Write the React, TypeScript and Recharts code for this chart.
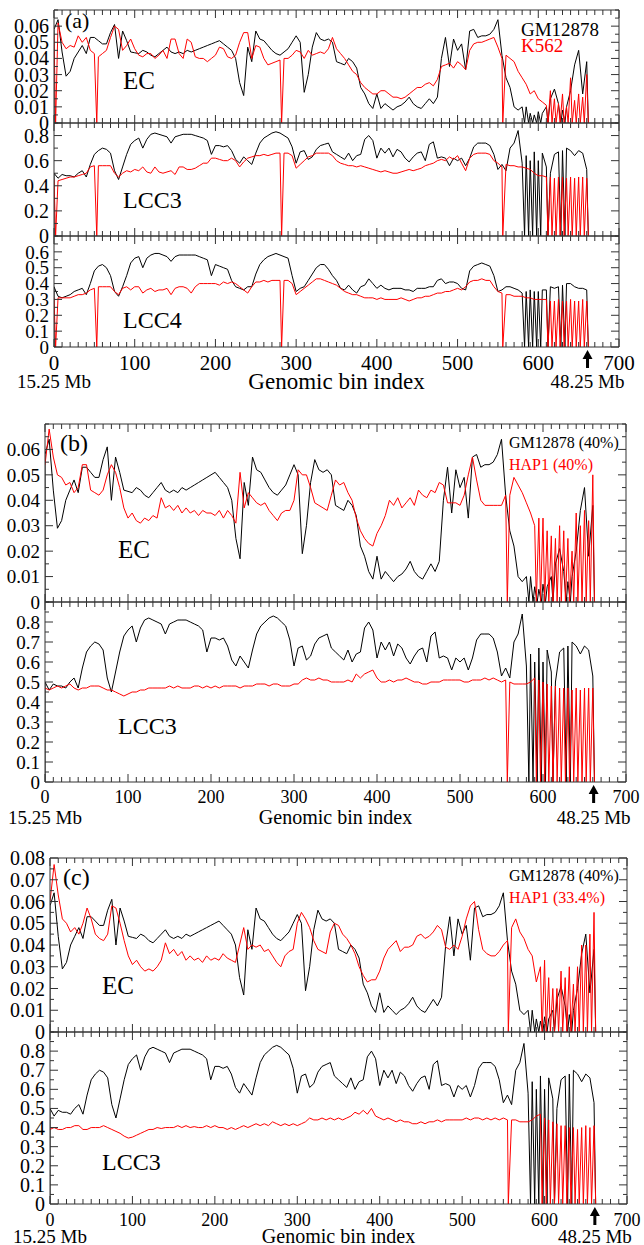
import { LineChart, Line, XAxis, YAxis } from "recharts";

// genomic bins, sampled every 5 bins (0 ... 660)
const bins = Array.from({ length: 133 }, (_, i) => i * 5);

// GM12878 (same track in a, b, c)
const gmEc = [
  0.058, 0.064, 0.044, 0.029, 0.032, 0.04, 0.044, 0.048, 0.043, 0.053,
  0.053, 0.051, 0.049, 0.049, 0.056, 0.061, 0.04, 0.057, 0.051, 0.044,
  0.0435, 0.043, 0.045, 0.044, 0.042, 0.041, 0.043, 0.045, 0.047, 0.044,
  0.043, 0.044, 0.043, 0.045, 0.044, 0.045, 0.046, 0.047, 0.048, 0.049,
  0.05, 0.051, 0.049, 0.047, 0.045, 0.04, 0.025, 0.017, 0.047, 0.038,
  0.057, 0.052, 0.051, 0.048, 0.045, 0.043, 0.042, 0.044, 0.046, 0.05,
  0.054, 0.05, 0.019, 0.03, 0.047, 0.056, 0.052, 0.051, 0.052, 0.05,
  0.038, 0.037, 0.036, 0.04, 0.038, 0.034, 0.022, 0.018, 0.012, 0.009,
  0.018, 0.009, 0.012, 0.01, 0.008, 0.01, 0.011, 0.013, 0.016, 0.012,
  0.01, 0.009, 0.012, 0.015, 0.012, 0.016, 0.04, 0.053, 0.035, 0.052,
  0.045, 0.049, 0.033, 0.057, 0.058, 0.053, 0.054, 0.054, 0.055, 0.058,
  0.064, 0.042, 0.028, 0.022, 0.01, 0.008, 0.01, 0.01, 0.006, 0.005,
  0.007, 0.006, 0.01, 0.015, 0.021, 0.012, 0.008, 0.01, 0.02, 0.036,
  0.045, 0.018, 0.038,
];
const gmLcc3 = [
  0.5, 0.46, 0.49, 0.48, 0.48, 0.47, 0.5, 0.52, 0.47, 0.57,
  0.65, 0.68, 0.7, 0.69, 0.66, 0.52, 0.45, 0.55, 0.65, 0.73,
  0.76, 0.78, 0.7, 0.77, 0.81, 0.82, 0.81, 0.8, 0.79, 0.74,
  0.79, 0.8, 0.81, 0.81, 0.81, 0.8, 0.79, 0.78, 0.76, 0.65,
  0.72, 0.72, 0.71, 0.72, 0.68, 0.61, 0.58, 0.63, 0.6, 0.57,
  0.66, 0.74, 0.78, 0.8, 0.82, 0.83, 0.82, 0.8, 0.78, 0.71,
  0.58, 0.67, 0.68, 0.61, 0.63, 0.69, 0.72, 0.73, 0.74, 0.67,
  0.65, 0.63, 0.61, 0.66, 0.6, 0.64, 0.65, 0.77, 0.8, 0.76,
  0.62, 0.7, 0.66, 0.7, 0.63, 0.69, 0.67, 0.62, 0.59, 0.63,
  0.66, 0.67, 0.6, 0.73, 0.75, 0.62, 0.63, 0.62, 0.56, 0.62,
  0.6, 0.62, 0.56, 0.62, 0.71, 0.74, 0.74, 0.74, 0.72, 0.65,
  0.53, 0.57, 0.52, 0.7, 0.74, 0.84, 0.58, 0.64, 0.6, 0.67,
  0.6, 0.66, 0.55, 0.5, 0.65, 0.67, 0.68, 0.7, 0.68, 0.64,
  0.68, 0.66, 0.53,
];
const gmLcc4 = [
  0.38, 0.32, 0.31, 0.32, 0.33, 0.35, 0.36, 0.37, 0.33, 0.4,
  0.48, 0.51, 0.52, 0.5, 0.45, 0.35, 0.32, 0.38, 0.45, 0.53,
  0.56, 0.57, 0.5, 0.56, 0.58, 0.59, 0.59, 0.58, 0.57, 0.54,
  0.57, 0.58, 0.58, 0.58, 0.58, 0.58, 0.57, 0.56, 0.55, 0.45,
  0.52, 0.51, 0.5, 0.49, 0.42, 0.38, 0.37, 0.36, 0.38, 0.38,
  0.46, 0.52, 0.55, 0.57, 0.58, 0.59, 0.58, 0.57, 0.56, 0.45,
  0.35, 0.37, 0.38, 0.42, 0.46, 0.5, 0.52, 0.52, 0.49, 0.45,
  0.42, 0.37, 0.36, 0.39, 0.36, 0.34, 0.38, 0.39, 0.43, 0.4,
  0.37, 0.39, 0.37, 0.36, 0.37, 0.37, 0.37, 0.36, 0.36, 0.35,
  0.37, 0.37, 0.37, 0.38, 0.38, 0.42, 0.43, 0.4, 0.41, 0.41,
  0.4, 0.37, 0.36, 0.48, 0.51, 0.52, 0.53, 0.52, 0.51, 0.45,
  0.35, 0.36, 0.38, 0.38, 0.37, 0.36, 0.34, 0.35, 0.36, 0.35,
  0.35, 0.36, 0.36, 0.38, 0.37, 0.38, 0.39, 0.4, 0.4, 0.38,
  0.37, 0.37, 0.36,
];

// K562 (panel a)
const k562Ec = [
  0.055, 0.062, 0.05, 0.046, 0.048, 0.047, 0.054, 0.05, 0.053, 0.045,
  0.043, 0.041, 0.043, 0.045, 0.053, 0.06, 0.058, 0.045, 0.048, 0.052,
  0.046, 0.042, 0.041, 0.043, 0.043, 0.04, 0.042, 0.045, 0.04, 0.052,
  0.052, 0.043, 0.04, 0.052, 0.05, 0.041, 0.04, 0.04, 0.038, 0.04,
  0.042, 0.047, 0.046, 0.041, 0.04, 0.042, 0.05, 0.056, 0.056, 0.04,
  0.048, 0.047, 0.04, 0.036, 0.037, 0.038, 0.039, 0.04, 0.04, 0.042,
  0.045, 0.044, 0.04, 0.045, 0.042, 0.043, 0.044, 0.043, 0.046, 0.053,
  0.046, 0.043, 0.04, 0.036, 0.032, 0.03, 0.025, 0.022, 0.02, 0.018,
  0.018, 0.02, 0.02, 0.018, 0.016, 0.016, 0.015, 0.016, 0.018, 0.02,
  0.022, 0.022, 0.024, 0.025, 0.023, 0.027, 0.035, 0.036, 0.037, 0.034,
  0.038, 0.036, 0.033, 0.045, 0.049, 0.05, 0.05, 0.051, 0.052, 0.053,
  0.047, 0.04, 0.042, 0.04, 0.038, 0.032, 0.028, 0.024, 0.018, 0.02,
  0.015, 0.013, 0.011, 0.02, 0.015, 0.012, 0.018, 0.01, 0.028, 0.014,
  0.018, 0.016, 0.03,
];
const k562Lcc3 = [
  0.45, 0.44, 0.45, 0.46, 0.47, 0.47, 0.48, 0.49, 0.5, 0.55,
  0.56, 0.56, 0.56, 0.56, 0.56, 0.5, 0.47, 0.5, 0.52, 0.51,
  0.53, 0.52, 0.55, 0.51, 0.5, 0.55, 0.51, 0.5, 0.51, 0.52,
  0.49, 0.55, 0.55, 0.53, 0.53, 0.54, 0.56, 0.58, 0.58, 0.62,
  0.62, 0.61, 0.6, 0.6, 0.62, 0.6, 0.55, 0.59, 0.62, 0.63,
  0.64, 0.64, 0.65, 0.64, 0.65, 0.66, 0.66, 0.66, 0.66, 0.64,
  0.54, 0.57, 0.6, 0.63, 0.64, 0.66, 0.66, 0.66, 0.66, 0.64,
  0.6, 0.58, 0.57, 0.56, 0.56, 0.55, 0.56, 0.55, 0.54, 0.53,
  0.52, 0.51, 0.52, 0.51, 0.5, 0.5, 0.51, 0.52, 0.53, 0.52,
  0.53, 0.54, 0.56, 0.57, 0.58, 0.6, 0.61, 0.6, 0.63, 0.61,
  0.64, 0.58, 0.52, 0.62, 0.65, 0.66, 0.66, 0.66, 0.65, 0.6,
  0.58, 0.55, 0.57, 0.56, 0.56, 0.55, 0.55, 0.54, 0.53, 0.5,
  0.48, 0.48, 0.47, 0.47, 0.46, 0.47, 0.47, 0.46, 0.47, 0.46,
  0.47, 0.47, 0.46,
];
const k562Lcc4 = [
  0.31, 0.31, 0.31, 0.31, 0.31, 0.32, 0.33, 0.33, 0.34, 0.36,
  0.37, 0.38, 0.38, 0.38, 0.38, 0.35, 0.33, 0.37, 0.38, 0.36,
  0.38, 0.38, 0.34, 0.36, 0.37, 0.35, 0.36, 0.36, 0.37, 0.33,
  0.37, 0.38, 0.38, 0.37, 0.34, 0.38, 0.4, 0.4, 0.4, 0.4,
  0.4, 0.39, 0.41, 0.4, 0.41, 0.4, 0.38, 0.36, 0.34, 0.38,
  0.41, 0.41, 0.42, 0.41, 0.42, 0.42, 0.42, 0.42, 0.42, 0.4,
  0.33, 0.35, 0.37, 0.39, 0.41, 0.43, 0.43, 0.42, 0.41, 0.4,
  0.39, 0.37, 0.35, 0.34, 0.33, 0.33, 0.32, 0.31, 0.31, 0.31,
  0.3, 0.31, 0.3, 0.3, 0.3, 0.3, 0.31, 0.3, 0.29, 0.3,
  0.31, 0.31, 0.32, 0.32, 0.33, 0.34, 0.34, 0.35, 0.35, 0.36,
  0.37, 0.36, 0.38, 0.41, 0.42, 0.42, 0.43, 0.42, 0.42, 0.38,
  0.35, 0.34, 0.33, 0.33, 0.32, 0.32, 0.32, 0.31, 0.31, 0.3,
  0.3, 0.3, 0.3, 0.29, 0.29, 0.3, 0.29, 0.29, 0.3, 0.29,
  0.29, 0.3, 0.29,
];

// HAP1 (40%) panel b
const hap40Ec = [
  0.054, 0.068, 0.057, 0.05, 0.049, 0.046, 0.047, 0.043, 0.045, 0.054,
  0.054, 0.044, 0.043, 0.042, 0.044, 0.05, 0.054, 0.051, 0.045, 0.037,
  0.033, 0.035, 0.032, 0.031, 0.033, 0.032, 0.034, 0.033, 0.041, 0.037,
  0.038, 0.036, 0.038, 0.035, 0.037, 0.035, 0.036, 0.034, 0.036, 0.035,
  0.035, 0.034, 0.036, 0.033, 0.036, 0.034, 0.031, 0.051, 0.037, 0.043,
  0.041, 0.039, 0.038, 0.039, 0.036, 0.034, 0.032, 0.035, 0.036, 0.036,
  0.04, 0.052, 0.05, 0.05, 0.045, 0.039, 0.038, 0.037, 0.036, 0.042,
  0.048, 0.046, 0.047, 0.043, 0.04, 0.033, 0.028, 0.025, 0.023, 0.022,
  0.027, 0.03, 0.034, 0.04, 0.038, 0.041, 0.037, 0.039, 0.041, 0.038,
  0.044, 0.042, 0.041, 0.044, 0.043, 0.047, 0.046, 0.039, 0.039, 0.039,
  0.038, 0.042, 0.05, 0.057, 0.048, 0.04, 0.038, 0.038, 0.038, 0.038,
  0.038, 0.042, 0.042, 0.049, 0.046, 0.043, 0.039, 0.035, 0.03, 0.033,
  0.033, 0.028, 0.026, 0.025, 0.03, 0.028, 0.025, 0.02, 0.035, 0.03,
  0.036, 0.032, 0.05,
];
const hap40Lcc3 = [
  0.47, 0.46, 0.47, 0.48, 0.47, 0.48, 0.49, 0.47, 0.46, 0.47,
  0.47, 0.48, 0.48, 0.48, 0.47, 0.46, 0.46, 0.45, 0.44, 0.43,
  0.44, 0.45, 0.45, 0.46, 0.46, 0.47, 0.47, 0.47, 0.47, 0.47,
  0.48, 0.47, 0.48, 0.47, 0.47, 0.47, 0.48, 0.48, 0.47, 0.48,
  0.47, 0.48, 0.47, 0.48, 0.48, 0.48, 0.48, 0.47, 0.48, 0.48,
  0.48, 0.49, 0.49, 0.49, 0.48, 0.49, 0.49, 0.48, 0.48, 0.48,
  0.49, 0.49, 0.51, 0.52, 0.51, 0.51, 0.52, 0.51, 0.51, 0.5,
  0.5, 0.5, 0.5, 0.51, 0.5, 0.54, 0.52, 0.54, 0.55, 0.56,
  0.52, 0.5, 0.5, 0.51, 0.5, 0.51, 0.51, 0.52, 0.51, 0.5,
  0.5, 0.49, 0.49, 0.5, 0.5, 0.5, 0.51, 0.51, 0.51, 0.51,
  0.51, 0.5, 0.5, 0.51, 0.51, 0.51, 0.52, 0.51, 0.52, 0.51,
  0.5, 0.51, 0.5, 0.49, 0.49, 0.49, 0.49, 0.5, 0.52, 0.51,
  0.5, 0.49, 0.48, 0.48, 0.47, 0.47, 0.47, 0.46, 0.47, 0.46,
  0.47, 0.47, 0.47,
];

// HAP1 (33.4%) panel c
const hap33Ec = [
  0.06, 0.077, 0.063, 0.052, 0.05, 0.046, 0.048, 0.045, 0.05, 0.057,
  0.052, 0.045, 0.043, 0.042, 0.045, 0.058, 0.057, 0.05, 0.042, 0.035,
  0.031, 0.033, 0.03, 0.028, 0.029, 0.028, 0.03, 0.033, 0.041, 0.036,
  0.038, 0.035, 0.037, 0.033, 0.035, 0.033, 0.034, 0.032, 0.035, 0.033,
  0.034, 0.033, 0.036, 0.034, 0.033, 0.032, 0.04, 0.048, 0.038, 0.04,
  0.039, 0.04, 0.037, 0.038, 0.035, 0.032, 0.03, 0.035, 0.037, 0.038,
  0.05, 0.055, 0.052, 0.048, 0.042, 0.038, 0.037, 0.036, 0.046, 0.05,
  0.049, 0.045, 0.043, 0.04, 0.036, 0.03, 0.026, 0.023, 0.024, 0.024,
  0.028, 0.034, 0.038, 0.04, 0.042, 0.037, 0.039, 0.039, 0.04, 0.044,
  0.045, 0.043, 0.044, 0.046, 0.049, 0.047, 0.039, 0.038, 0.04, 0.038,
  0.044, 0.052, 0.058, 0.06, 0.047, 0.038, 0.036, 0.035, 0.035, 0.037,
  0.04, 0.042, 0.048, 0.052, 0.046, 0.043, 0.038, 0.035, 0.023, 0.03,
  0.033, 0.025, 0.02, 0.02, 0.028, 0.025, 0.03, 0.022, 0.03, 0.04,
  0.04, 0.045, 0.055,
];
const hap33Lcc3 = [
  0.39, 0.4, 0.39, 0.39, 0.4, 0.4, 0.41, 0.41, 0.39, 0.39,
  0.4, 0.4, 0.4, 0.41, 0.4, 0.39, 0.38, 0.37, 0.355, 0.345,
  0.35, 0.36, 0.37, 0.38, 0.39, 0.39, 0.4, 0.395, 0.4, 0.4,
  0.4, 0.41, 0.4, 0.41, 0.4, 0.405, 0.4, 0.4, 0.41, 0.4,
  0.41, 0.4, 0.4, 0.39, 0.4, 0.39, 0.4, 0.41, 0.4, 0.41,
  0.42, 0.41, 0.42, 0.41, 0.43, 0.42, 0.41, 0.42, 0.41, 0.42,
  0.41, 0.42, 0.43, 0.45, 0.44, 0.44, 0.45, 0.44, 0.45, 0.44,
  0.45, 0.44, 0.45, 0.46, 0.48, 0.47, 0.49, 0.47, 0.5, 0.46,
  0.45, 0.44, 0.45, 0.44, 0.43, 0.44, 0.43, 0.43, 0.42, 0.42,
  0.43, 0.42, 0.43, 0.43, 0.44, 0.43, 0.44, 0.44, 0.44, 0.44,
  0.44, 0.45, 0.44, 0.45, 0.45, 0.44, 0.45, 0.44, 0.45, 0.44,
  0.45, 0.44, 0.44, 0.44, 0.43, 0.43, 0.43, 0.44, 0.46, 0.47,
  0.45, 0.44, 0.43, 0.42, 0.41, 0.41, 0.4, 0.4, 0.39, 0.4,
  0.41, 0.4, 0.41,
];

// single-bin dropouts to zero
const gmDrops = [0, 583, 588, 593, 598, 603, 612, 628, 633, 662];
const k562Drops = [2, 53, 282, 556, 612, 617, 622, 627, 632, 637, 642, 647, 652, 657, 662];
const hap40Drops = [557, 592, 597, 602, 607, 612, 617, 622, 627, 632, 637, 642, 647, 652, 657, 662];
const hap33Drops = [556, 597, 602, 607, 612, 617, 622, 627, 632, 637, 642, 647, 652, 657, 662];

// axis tick labels
const ecLabels7 = [0, 0.01, 0.02, 0.03, 0.04, 0.05, 0.06];
const ecLabels8 = [0, 0.01, 0.02, 0.03, 0.04, 0.05, 0.06, 0.07, 0.08];
const lccLabelsA = [0, 0.2, 0.4, 0.6, 0.8];
const lcc4Labels = [0, 0.1, 0.2, 0.3, 0.4, 0.5, 0.6];
const lccLabels = [0, 0.1, 0.2, 0.3, 0.4, 0.5, 0.6, 0.7, 0.8];
const endBin = 661;

const FONT = '"Liberation Serif", "DejaVu Serif", serif';
const W = 644;
const AXIS = "#333";
const RED = "#ff0000";
const PAD = 14; // room above/below each plot for labels

type Pt = { x: number; y: number };

function toPoints(values: number[], drops: number[] = []): Pt[] {
  const pts = values.map((y, i) => ({ x: bins[i], y }));
  for (const d of drops) {
    const idx = pts.findIndex((p) => p.x >= d);
    pts.splice(idx < 0 ? pts.length : idx, 0, { x: d, y: 0 });
  }
  return pts;
}

const fmt = (v: number) => String(Number(v.toFixed(3)));

type Footer = { tickOff: number; rowOff: number; xFont: number; titleFont: number; mbFont: number };

type SubplotProps = {
  left: number;
  right: number;
  top: number;
  bottom: number;
  yMax: number;
  yMinor: number;
  yLabels: number[];
  black: Pt[];
  red: Pt[];
  tickFont: number;
  footer?: Footer;
};

function Subplot({ left, right, top, bottom, yMax, yMinor, yLabels, black, red, tickFont, footer }: SubplotProps) {
  const h = bottom - top;
  const botH = footer ? 50 : PAD;
  const yB = PAD + h;
  const n = Math.round(yMax / yMinor);
  const yTicks = Array.from({ length: n + 1 }, (_, i) => Number((i * yMinor).toFixed(4)));
  const isLab = (v: number) => yLabels.some((l) => Math.abs(l - v) < 1e-6);
  const xTicks = Array.from({ length: 71 }, (_, i) => i * 10);
  const xBottom = footer ? [...xTicks, endBin] : xTicks;
  const txt = { style: { fontFamily: FONT }, fill: "#000" };

  const leftTick = (p: any) => {
    const v = p.payload.value;
    const lab = isLab(v);
    return (
      <g>
        <line x1={left} x2={left + (lab ? 8 : 4)} y1={p.y} y2={p.y} stroke={AXIS} />
        {lab && (
          <text x={left - 5} y={p.y} dy="0.35em" textAnchor="end" fontSize={tickFont} {...txt}>
            {fmt(v)}
          </text>
        )}
      </g>
    );
  };
  const rightTick = (p: any) => {
    const lab = isLab(p.payload.value);
    return <line x1={right} x2={right - (lab ? 8 : 4)} y1={p.y} y2={p.y} stroke={AXIS} />;
  };
  const topTick = (p: any) => {
    const major = p.payload.value % 100 === 0;
    return <line x1={p.x} x2={p.x} y1={PAD} y2={PAD + (major ? 8 : 5)} stroke={AXIS} />;
  };
  const bottomTick = (p: any) => {
    const v = p.payload.value;
    const x = p.x;
    if (v === endBin && footer) {
      return (
        <g>
          <path
            d={`M${x} ${yB + 3} L${x - 5} ${yB + 12} L${x - 1.5} ${yB + 12} L${x - 1.5} ${yB + 21} L${x + 1.5} ${yB + 21} L${x + 1.5} ${yB + 12} L${x + 5} ${yB + 12} Z`}
            fill="#000"
          />
          <text x={x} y={yB + footer.rowOff} dy="0.35em" textAnchor="middle" fontSize={footer.mbFont} {...txt}>
            48.25 Mb
          </text>
        </g>
      );
    }
    const major = v % 100 === 0;
    return (
      <g>
        <line x1={x} x2={x} y1={yB} y2={yB - (major ? 8 : 5)} stroke={AXIS} />
        {footer && major && (
          <text x={x} y={yB + footer.tickOff} dy="0.35em" textAnchor="middle" fontSize={footer.xFont} {...txt}>
            {v}
          </text>
        )}
        {footer && v === 0 && (
          <text x={x} y={yB + footer.rowOff} dy="0.35em" textAnchor="middle" fontSize={footer.mbFont} {...txt}>
            15.25 Mb
          </text>
        )}
        {footer && v === 350 && (
          <text x={x} y={yB + footer.rowOff} dy="0.35em" textAnchor="middle" fontSize={footer.titleFont} {...txt}>
            Genomic bin index
          </text>
        )}
      </g>
    );
  };

  return (
    <div style={{ position: "absolute", left: 0, top: top - PAD }}>
      <LineChart width={W} height={PAD + h + botH} margin={{ top: 0, right: 0, bottom: 0, left: 0 }}>
        <XAxis
          xAxisId="b"
          type="number"
          dataKey="x"
          domain={[0, 700]}
          allowDataOverflow
          ticks={xBottom}
          interval={0}
          tick={bottomTick}
          tickLine={false}
          axisLine={{ stroke: AXIS }}
          height={botH}
        />
        <XAxis
          xAxisId="t"
          orientation="top"
          type="number"
          dataKey="x"
          domain={[0, 700]}
          allowDataOverflow
          ticks={xTicks}
          interval={0}
          tick={topTick}
          tickLine={false}
          axisLine={{ stroke: AXIS }}
          height={PAD}
        />
        <YAxis
          yAxisId="l"
          type="number"
          domain={[0, yMax]}
          allowDataOverflow
          ticks={yTicks}
          interval={0}
          tick={leftTick}
          tickLine={false}
          axisLine={{ stroke: AXIS }}
          width={left}
        />
        <YAxis
          yAxisId="r"
          orientation="right"
          type="number"
          domain={[0, yMax]}
          allowDataOverflow
          ticks={yTicks}
          interval={0}
          tick={rightTick}
          tickLine={false}
          axisLine={{ stroke: AXIS }}
          width={W - right}
        />
        <Line
          xAxisId="b"
          yAxisId="l"
          data={black}
          dataKey="y"
          type="linear"
          stroke="#000"
          strokeWidth={1}
          dot={false}
          isAnimationActive={false}
        />
        <Line
          xAxisId="b"
          yAxisId="l"
          data={red}
          dataKey="y"
          type="linear"
          stroke={RED}
          strokeWidth={1}
          dot={false}
          isAnimationActive={false}
        />
      </LineChart>
    </div>
  );
}

type Note = { text: string; x: number; y: number; size: number; color?: string };

const notes: Note[] = [
  { text: "(a)", x: 65, y: 20.5, size: 22 },
  { text: "EC", x: 123, y: 80, size: 25 },
  { text: "GM12878", x: 521, y: 28.5, size: 19 },
  { text: "K562", x: 521, y: 45, size: 19, color: RED },
  { text: "LCC3", x: 123, y: 200, size: 24 },
  { text: "LCC4", x: 123, y: 319.5, size: 24 },
  { text: "(b)", x: 60, y: 443, size: 24 },
  { text: "EC", x: 118, y: 549, size: 25 },
  { text: "GM12878 (40%)", x: 509, y: 443, size: 16 },
  { text: "HAP1 (40%)", x: 509, y: 465, size: 16, color: RED },
  { text: "LCC3", x: 118, y: 726, size: 24 },
  { text: "(c)", x: 63, y: 877, size: 24 },
  { text: "EC", x: 102, y: 985, size: 25 },
  { text: "GM12878 (40%)", x: 509, y: 876, size: 16 },
  { text: "HAP1 (33.4%)", x: 509, y: 898, size: 16, color: RED },
  { text: "LCC3", x: 102, y: 1162, size: 24 },
];

export default function App() {
  const gmEcPts = toPoints(gmEc, gmDrops);
  const gmLcc3Pts = toPoints(gmLcc3, gmDrops);
  const gmLcc4Pts = toPoints(gmLcc4, gmDrops);

  return (
    <div style={{ position: "absolute", left: 0, top: 0, width: W, height: 1245, background: "#fff" }}>
      {/* (a) GM12878 vs K562 */}
      <Subplot left={54} right={619} top={10} bottom={123} yMax={0.07} yMinor={0.005} yLabels={ecLabels7}
        black={gmEcPts} red={toPoints(k562Ec, k562Drops)} tickFont={20} />
      <Subplot left={54} right={619} top={123} bottom={236} yMax={0.9} yMinor={0.1} yLabels={lccLabelsA}
        black={gmLcc3Pts} red={toPoints(k562Lcc3, k562Drops)} tickFont={20} />
      <Subplot left={54} right={619} top={236} bottom={347} yMax={0.7} yMinor={0.05} yLabels={lcc4Labels}
        black={gmLcc4Pts} red={toPoints(k562Lcc4, k562Drops)} tickFont={19}
        footer={{ tickOff: 16, rowOff: 34, xFont: 21, titleFont: 23, mbFont: 19 }} />

      {/* (b) GM12878 (40%) vs HAP1 (40%) */}
      <Subplot left={45} right={626} top={424} bottom={602} yMax={0.07} yMinor={0.005} yLabels={ecLabels7}
        black={gmEcPts} red={toPoints(hap40Ec, hap40Drops)} tickFont={19} />
      <Subplot left={45} right={626} top={602} bottom={782} yMax={0.9} yMinor={0.05} yLabels={lccLabels}
        black={gmLcc3Pts} red={toPoints(hap40Lcc3, hap40Drops)} tickFont={19}
        footer={{ tickOff: 15, rowOff: 35, xFont: 18, titleFont: 20, mbFont: 19 }} />

      {/* (c) GM12878 (40%) vs HAP1 (33.4%) */}
      <Subplot left={50} right={627} top={858} bottom={1032} yMax={0.08} yMinor={0.005} yLabels={ecLabels8}
        black={gmEcPts} red={toPoints(hap33Ec, hap33Drops)} tickFont={20} />
      <Subplot left={50} right={627} top={1032} bottom={1204} yMax={0.9} yMinor={0.05} yLabels={lccLabels}
        black={gmLcc3Pts} red={toPoints(hap33Lcc3, hap33Drops)} tickFont={20}
        footer={{ tickOff: 16, rowOff: 32, xFont: 18, titleFont: 20, mbFont: 19 }} />

      {notes.map((n, i) => (
        <div
          key={i}
          style={{
            position: "absolute",
            left: n.x,
            top: n.y,
            transform: "translateY(-50%)",
            fontFamily: FONT,
            fontSize: n.size,
            lineHeight: 1,
            whiteSpace: "nowrap",
            color: n.color ?? "#000",
          }}
        >
          {n.text}
        </div>
      ))}
    </div>
  );
}
